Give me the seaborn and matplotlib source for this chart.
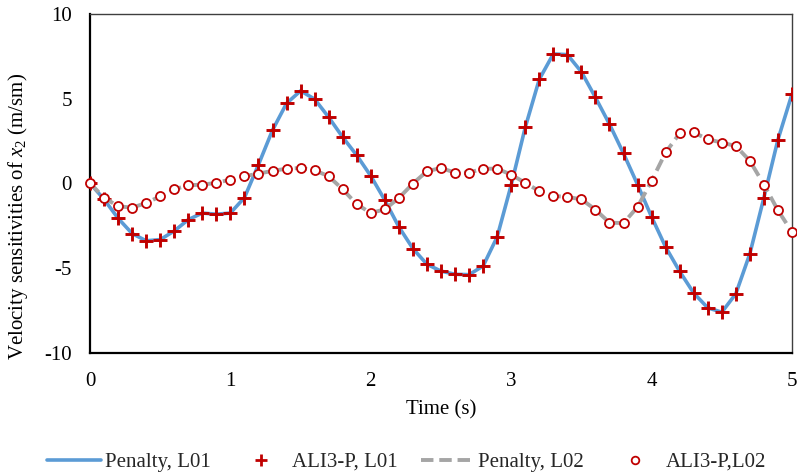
import matplotlib
matplotlib.use("Agg")
import matplotlib.pyplot as plt
import seaborn as sns
import numpy as np
import pandas as pd
from matplotlib.lines import Line2D

sns.set_theme(style="white")
plt.rcParams['font.family'] = ['Liberation Serif', 'DejaVu Serif']
plt.rcParams['mathtext.fontset'] = 'custom'
plt.rcParams['mathtext.rm'] = 'Liberation Serif'
plt.rcParams['mathtext.it'] = 'Liberation Serif:italic'

time = [round(0.1 * i, 1) for i in range(51)]

penalty_l01 = [0.0, -0.95, -2.07, -2.97, -3.4, -3.33, -2.82, -2.15, -1.76, -1.83,
               -1.76, -0.85, 1.1, 3.14, 4.72, 5.46, 4.97, 3.9, 2.72, 1.65,
               0.43, -1.0, -2.58, -3.86, -4.79, -5.19, -5.38, -5.4, -4.89, -3.17,
               -0.1, 3.3, 6.14, 7.64, 7.6, 6.58, 5.07, 3.49, 1.76, -0.08,
               -1.99, -3.77, -5.21, -6.49, -7.36, -7.62, -6.53, -4.16, -0.85, 2.58,
               5.27]
ali3p_l01 = list(penalty_l01)

penalty_l02 = [0.0, -0.85, -1.36, -1.44, -1.17, -0.77, -0.36, -0.12, -0.08, 0.02,
               0.22, 0.41, 0.57, 0.73, 0.86, 0.9, 0.77, 0.41, -0.36, -1.24,
               -1.76, -1.54, -0.87, -0.02, 0.71, 0.9, 0.63, 0.63, 0.86, 0.86,
               0.51, 0.02, -0.46, -0.75, -0.81, -0.95, -1.56, -2.33, -2.35, -1.4,
               0.14, 1.82, 2.95, 3.0, 2.6, 2.4, 2.2, 1.32, -0.08, -1.6,
               -2.88]
ali3p_l02 = list(penalty_l02)

y_ticks = [-10, -5, 0, 5, 10]
x_ticks = [0, 1, 2, 3, 4, 5]

df = pd.DataFrame({"t": time, "p1": penalty_l01, "a1": ali3p_l01,
                   "p2": penalty_l02, "a2": ali3p_l02})

W, H = 797, 476
fig = plt.figure(figsize=(W/100, H/100), dpi=100)
ax = fig.add_axes([90/W, 1-352.5/H, 702/W, 338.5/H])

blue = "#5B9BD5"
gray = "#A5A5A5"
red = "#C00000"
FS = 15

sns.lineplot(data=df, x="t", y="p1", ax=ax, color=blue, linewidth=2.6, zorder=2)
sns.scatterplot(data=df, x="t", y="a1", ax=ax, marker="+", color=red, s=95,
                linewidth=2.1, zorder=3)
sns.lineplot(data=df, x="t", y="p2", ax=ax, color=gray, linewidth=2.8,
             linestyle=(0, (3.2, 1.5)), zorder=4)
ax.plot(df["t"], df["a2"], linestyle="none", marker="o", markersize=6.5,
        markerfacecolor="white", markeredgecolor=red, markeredgewidth=1.3,
        zorder=5, clip_on=False)

ax.set_xlim(0, 5)
ax.set_ylim(-10, 10)
ax.set_xticks(x_ticks)
ax.set_yticks(y_ticks)
ax.set_xticklabels([str(v) for v in x_ticks], fontsize=FS)
ax.set_yticklabels([str(v) for v in y_ticks], fontsize=FS)
ax.tick_params(axis='both', length=0, colors='black')
ax.tick_params(axis='y', pad=13)
ax.tick_params(axis='x', pad=14)
ax.grid(False)

for s in ['left', 'bottom']:
    ax.spines[s].set_color('black')
    ax.spines[s].set_linewidth(1.6)
for s in ['top', 'right']:
    ax.spines[s].set_color('#3f3f3f')
    ax.spines[s].set_linewidth(1.0)

ax.set_xlabel("")
ax.set_ylabel("")
fig.text(441/W, 1-410/H, "Time (s)", fontsize=FS, color='black',
         ha='center', va='center')
fig.text(18/W, 1-216/H, r"Velocity sensitivities of $x_2$ (m/sm)", fontsize=FS,
         color='black', ha='center', va='center', rotation=90)

handles = [
    Line2D([0], [0], color=blue, linewidth=2.6),
    Line2D([0], [0], linestyle='none', marker='+', color=red, markersize=8,
           markeredgewidth=2),
    Line2D([0], [0], color=gray, linewidth=2.8, linestyle=(0, (3.2, 1.5))),
    Line2D([0], [0], linestyle='none', marker='o', markersize=5.5,
           markerfacecolor='white', markeredgecolor=red, markeredgewidth=1.3),
]
labels = ["Penalty, L01", "ALI3-P, L01", "Penalty, L02", "ALI3-P,L02"]
fig.legend(handles, labels, loc='center', bbox_to_anchor=(406.5/W, 1-462/H),
           ncol=4, frameon=False, fontsize=FS, handlelength=2.6,
           handletextpad=0.15, columnspacing=1.15, borderpad=0.2)

fig.savefig("out.png", dpi=100)
